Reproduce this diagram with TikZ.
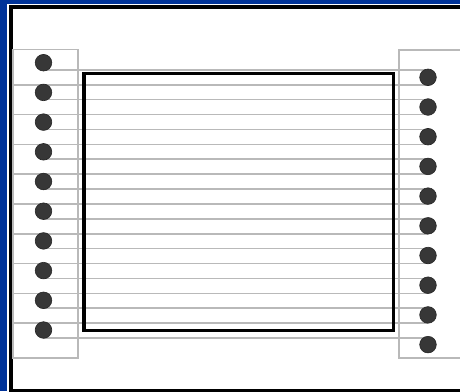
\documentclass[tikz,border=0pt]{standalone}
\definecolor{bgblue}{RGB}{0,51,153}
\definecolor{rulegray}{RGB}{185,185,185}
\definecolor{peggray}{RGB}{55,55,55}
\begin{document}
\begin{tikzpicture}[x=1pt,y=-1pt,
  panel/.style={draw=rulegray,line width=1.1pt},
  ruleline/.style={draw=rulegray,line width=1.6pt},
  peg/.style={circle,fill=peggray,draw=black!85,line width=0.6pt,minimum size=16.6pt,inner sep=0pt},
  frame/.style={draw=black,line width=3.3pt}]
\useasboundingbox (0,0) rectangle (460,391);
\clip (0,0) rectangle (460,391);
\fill[bgblue] (0,0) rectangle (460,391);
\fill[white] (7,3.5) rectangle (480,400);
\draw[black,line width=3.5pt] (10.75,7) rectangle (480,390.5);
\draw[panel] (13,49.5) rectangle (78,358);
\draw[panel] (399,50) rectangle (480,358);
% rule lines
\foreach \k in {0,...,18}{
  \pgfmathsetmacro{\yy}{69.8+14.9*\k}
  \pgfmathsetmacro{\xs}{ifthenelse(mod(\k,2)==0,43.5,13)}
  \coordinate (s\k) at (\xs,\yy);
  \coordinate (e\k) at (428,\yy);
  \draw[ruleline] (s\k) -- (e\k);
}
\draw[frame] (84,73.8) rectangle (393.3,330.5);
\foreach \i in {0,...,9}{
  \node[peg] (L\i) at (43.5,62.7+29.7*\i) {};
  \node[peg] (R\i) at (428,77.3+29.7*\i) {};
}
\end{tikzpicture}
\end{document}
